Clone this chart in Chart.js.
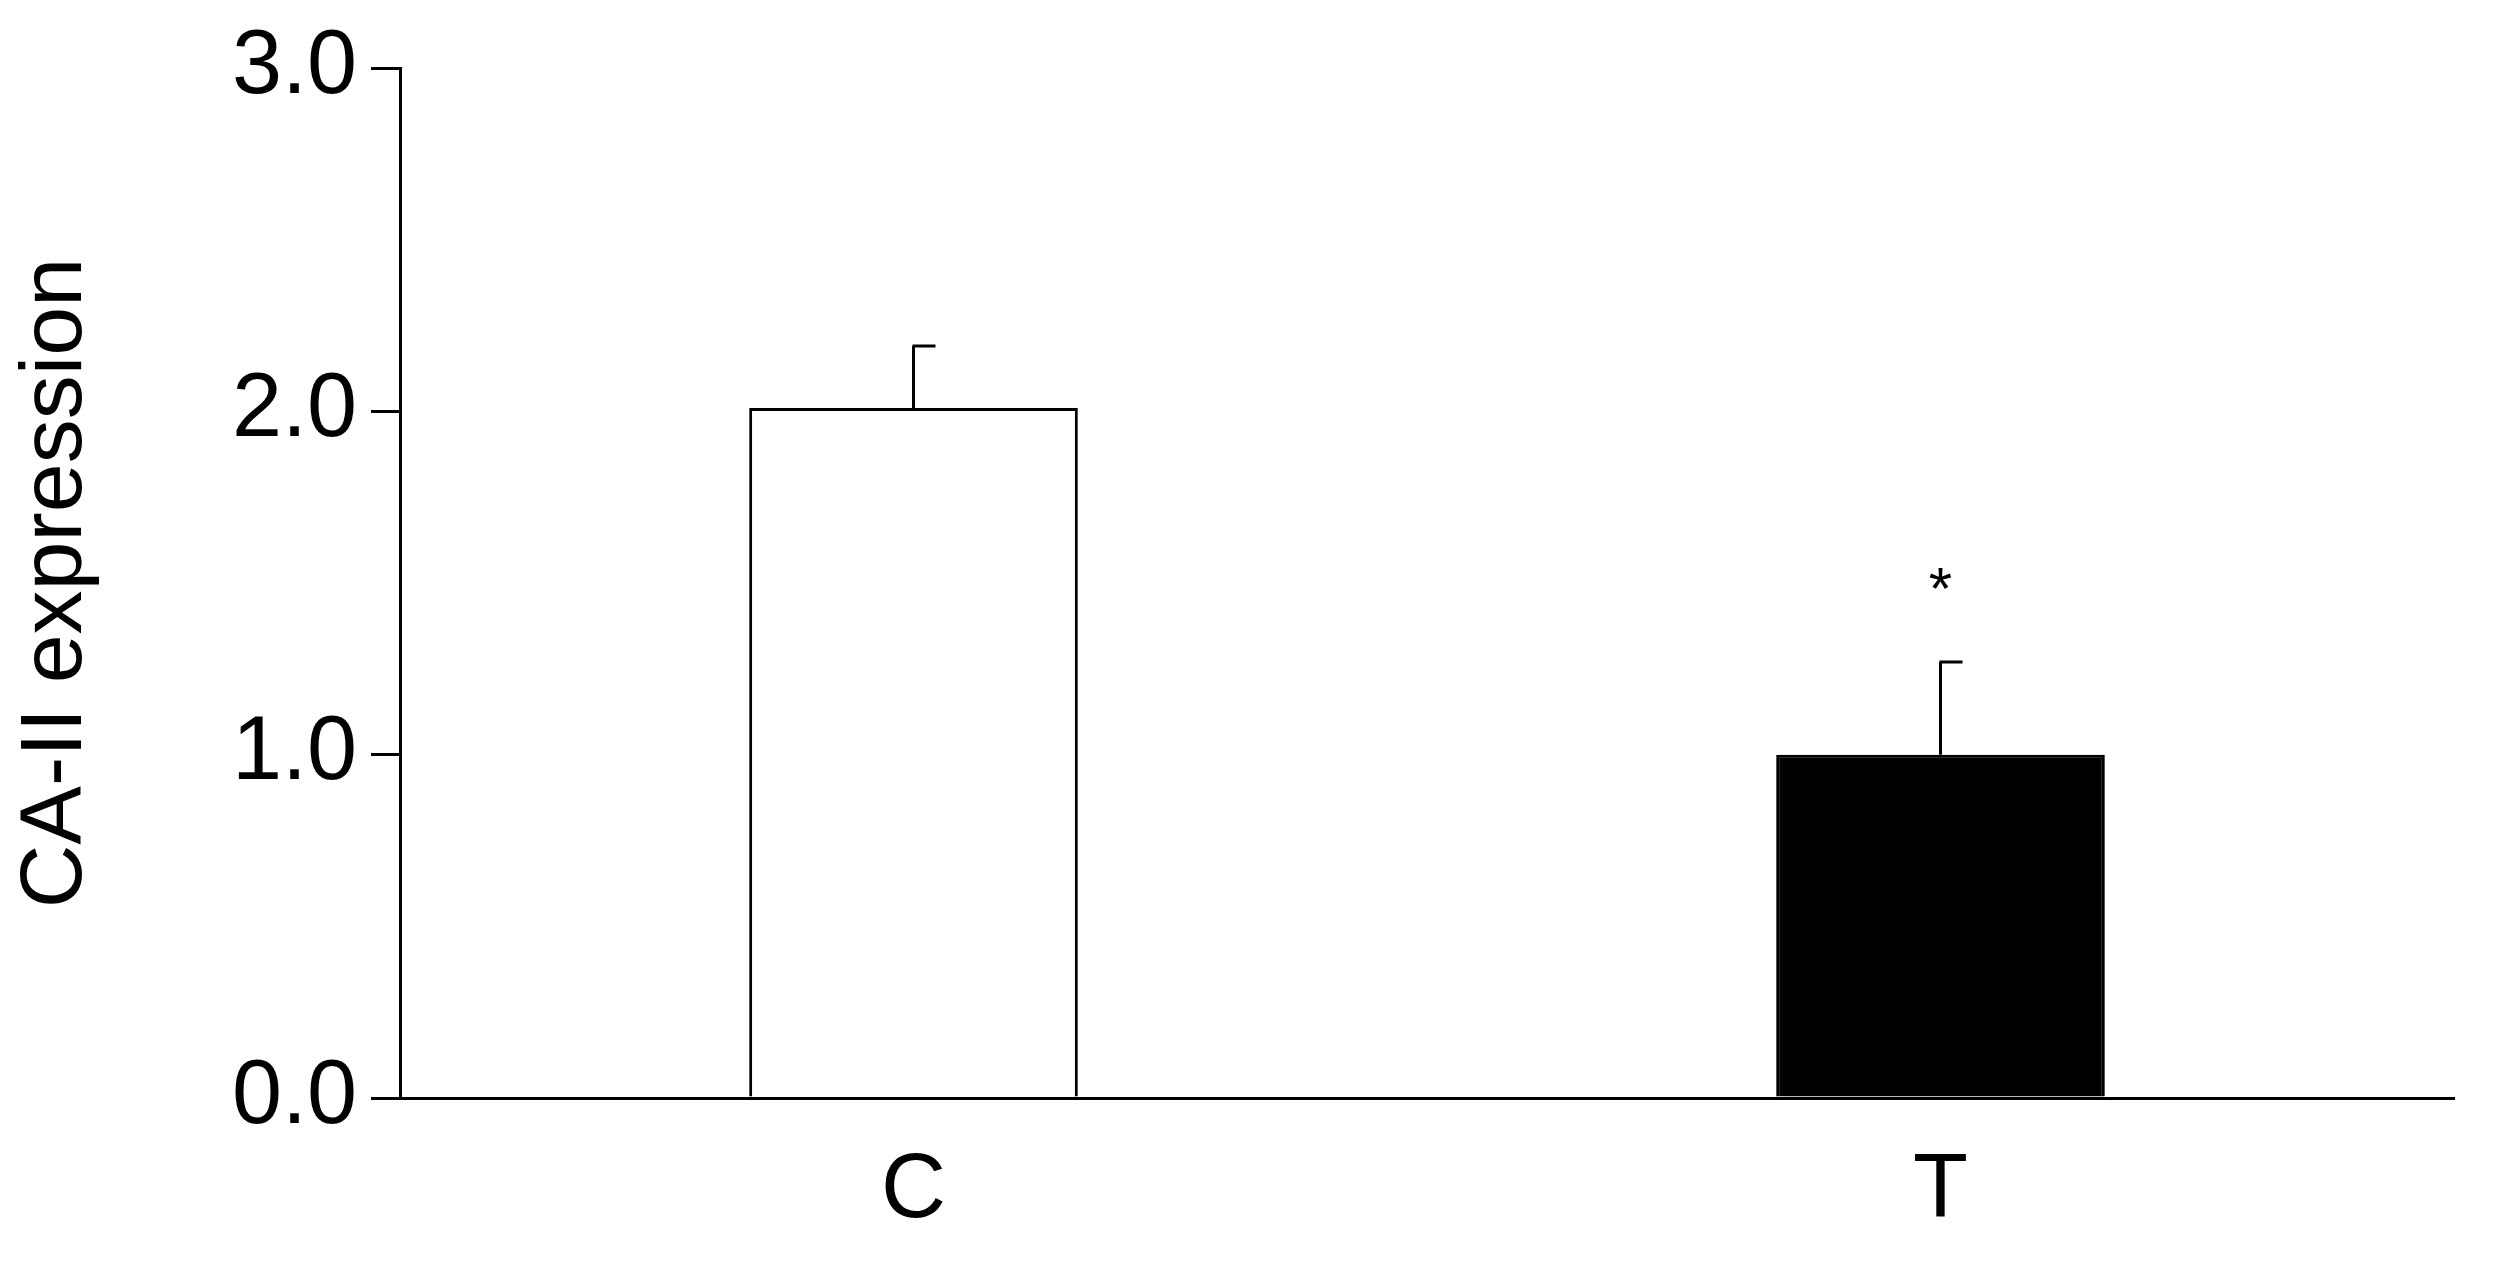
<!DOCTYPE html>
<html>
<head>
<meta charset="utf-8">
<script src="https://cdn.jsdelivr.net/npm/chart.js@4"></script>
<style>
  html, body { margin: 0; padding: 0; background: #fff; }
  #wrap { width: 2494px; height: 1268px; }
</style>
</head>
<body>
<div id="wrap"><canvas id="chart"></canvas></div>
<script>
const categories = ['C', 'T'];
const means = [2.01, 1.0];
const errors = [0.18, 0.27];
const marks = ['', '*'];
const yTicks = [0, 1, 2, 3];

const FONT = '"Liberation Sans", Arial, sans-serif';

// error bars (upward only) and significance marks
const errorBars = {
  id: 'errorBars',
  afterDatasetsDraw(chart) {
    const { ctx, scales: { x, y } } = chart;
    ctx.save();
    ctx.strokeStyle = '#000';
    ctx.lineWidth = 3;
    means.forEach((m, i) => {
      const cx = x.getPixelForValue(i);
      const yTop = y.getPixelForValue(m + errors[i]);
      const yBar = y.getPixelForValue(m);
      ctx.beginPath();
      ctx.moveTo(cx, yBar);
      ctx.lineTo(cx, yTop);
      ctx.moveTo(cx - 1, yTop);
      ctx.lineTo(cx + 22, yTop);
      ctx.stroke();
      if (marks[i]) {
        ctx.fillStyle = '#000';
        ctx.font = `60px ${FONT}`;
        ctx.textAlign = 'center';
        ctx.textBaseline = 'bottom';
        ctx.fillText(marks[i], cx, yTop - 40);
      }
    });
    ctx.restore();
  }
};

new Chart(document.getElementById('chart'), {
  type: 'bar',
  data: {
    labels: categories,
    datasets: [{
      data: means,
      backgroundColor: ['#ffffff', '#000000'],
      borderColor: '#000',
      borderWidth: 3,
      borderSkipped: 'bottom',
      barPercentage: 0.32,
      categoryPercentage: 1,
    }]
  },
  options: {
    responsive: true, maintainAspectRatio: false,
    animation: false,
    layout: { padding: { top: 67, right: 40, left: 0, bottom: 0 } },
    plugins: { legend: { display: false }, tooltip: { enabled: false } },
    scales: {
      x: {
        offset: true,
        grid: { display: false, drawTicks: false },
        border: { display: true, color: '#000', width: 3 },
        ticks: { color: '#000', font: { family: FONT, size: 90 }, padding: 40 },
        afterFit: s => { s.height = 170; }
      },
      y: {
        min: 0, max: 3,
        afterBuildTicks: s => { s.ticks = yTicks.map(v => ({ value: v })); },
        grid: { drawOnChartArea: false, drawTicks: true, tickLength: 29, color: '#000', lineWidth: 3 },
        border: { display: true, color: '#000', width: 3 },
        ticks: { color: '#000', font: { family: FONT, size: 90 }, padding: 14, callback: v => v.toFixed(1) },
        title: { display: true, text: 'CA-II expression', color: '#000', font: { family: FONT, size: 88 }, padding: { bottom: 20 } },
        afterFit: s => { s.width = 400; }
      }
    }
  },
  plugins: [errorBars]
});
</script>
</body>
</html>
